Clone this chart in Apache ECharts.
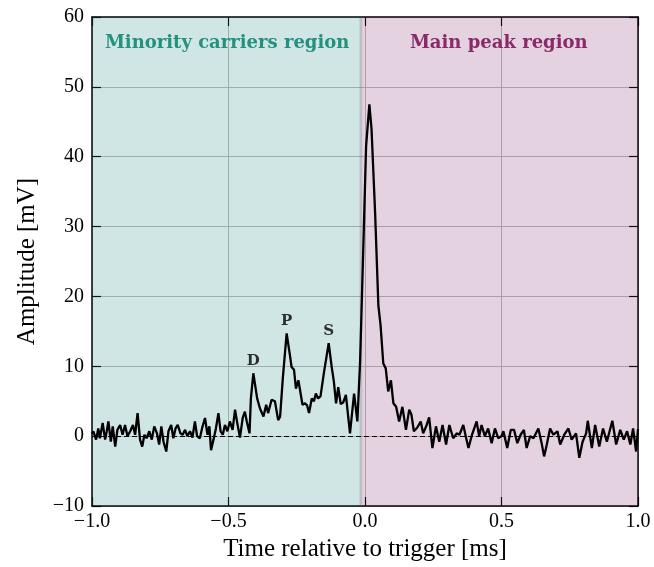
<!DOCTYPE html>
<html>
<head>
<meta charset="utf-8">
<script src="https://cdn.jsdelivr.net/npm/echarts@6/dist/echarts.min.js"></script>
<style>html,body{margin:0;padding:0;background:#fff}#c{width:654px;height:567px}</style>
</head>
<body>
<div id="c"></div>
<script>
// Time relative to trigger [ms]
var times = [-1.000,-0.995,-0.985,-0.977,-0.971,-0.961,-0.952,-0.946,-0.940,-0.931,-0.924,-0.915,-0.907,-0.897,-0.888,-0.879,-0.870,-0.860,-0.850,-0.842,-0.833,-0.824,-0.816,-0.808,-0.800,-0.790,-0.781,-0.772,-0.762,-0.754,-0.746,-0.738,-0.728,-0.720,-0.710,-0.702,-0.694,-0.686,-0.676,-0.668,-0.659,-0.651,-0.641,-0.632,-0.623,-0.615,-0.605,-0.595,-0.586,-0.577,-0.570,-0.564,-0.555,-0.547,-0.537,-0.529,-0.521,-0.513,-0.504,-0.495,-0.485,-0.476,-0.468,-0.458,-0.448,-0.440,-0.433,-0.423,-0.418,-0.409,-0.395,-0.385,-0.372,-0.362,-0.355,-0.342,-0.330,-0.318,-0.311,-0.301,-0.287,-0.275,-0.269,-0.260,-0.253,-0.244,-0.238,-0.229,-0.220,-0.212,-0.205,-0.195,-0.187,-0.180,-0.172,-0.163,-0.150,-0.133,-0.122,-0.114,-0.106,-0.098,-0.089,-0.080,-0.070,-0.055,-0.040,-0.028,-0.018,-0.006,0.004,0.016,0.024,0.037,0.049,0.057,0.067,0.076,0.085,0.095,0.104,0.114,0.125,0.137,0.150,0.162,0.170,0.179,0.191,0.204,0.213,0.226,0.235,0.247,0.260,0.272,0.284,0.297,0.309,0.323,0.336,0.346,0.360,0.369,0.379,0.392,0.409,0.418,0.427,0.439,0.451,0.464,0.476,0.488,0.500,0.507,0.521,0.534,0.546,0.558,0.570,0.582,0.592,0.605,0.617,0.635,0.647,0.656,0.666,0.678,0.690,0.705,0.715,0.730,0.745,0.757,0.773,0.785,0.797,0.810,0.816,0.831,0.843,0.858,0.872,0.886,0.906,0.920,0.935,0.948,0.960,0.972,0.982,0.993,1.000];
// Amplitude [mV]
var amplitudes = [0.3,0.7,-0.5,1.1,-0.3,1.9,-0.5,0.7,2.1,-0.8,1.4,-1.5,0.9,1.6,0.2,1.6,0.0,0.7,1.6,0.2,3.3,-0.5,-1.5,0.2,-0.3,0.7,-0.5,1.4,0.4,-1.2,1.4,-0.8,-2.2,0.7,1.6,-0.3,1.1,1.6,0.4,0.2,0.9,0.0,0.7,-0.2,2.1,0.0,-0.3,1.4,2.6,0.2,1.4,-2.0,-0.5,0.9,3.3,0.7,0.2,1.6,0.7,2.1,0.9,3.8,1.9,-0.2,2.6,3.5,2.1,0.4,5.4,9.0,5.4,4.0,2.8,4.5,3.3,5.2,5.0,2.3,2.8,8.3,14.7,11.6,9.9,9.5,6.8,8.0,6.6,4.5,4.7,4.4,3.3,5.4,5.0,6.1,5.4,5.7,9.2,13.3,9.9,7.8,4.7,7.0,4.6,4.8,5.9,0.4,6.1,2.1,10.6,27.3,41.5,47.5,43.9,32.0,18.7,15.9,10.4,9.7,6.4,8.0,4.7,4.2,2.1,4.2,0.9,3.8,3.1,0.7,1.2,2.1,0.4,1.6,2.7,-1.7,1.4,-0.8,1.6,-1.2,1.6,-0.3,0.4,0.2,1.6,0.0,-1.7,0.2,2.1,0.0,1.6,0.0,1.1,-1.0,1.1,-0.3,0.0,0.7,-1.7,0.9,0.9,-1.0,0.2,0.9,-1.7,0.0,-0.3,1.1,-1.0,-2.9,-1.2,1.1,0.2,0.7,-1.2,0.2,1.1,-0.5,0.4,-3.1,-0.8,0.4,2.2,-1.7,1.6,-1.5,1.1,-0.8,2.2,-1.2,0.9,-0.5,0.7,-1.2,1.1,-2.2,1.0];
// Peak annotations
var peakNames = ['D', 'P', 'S'];
var peakTimes = [-0.409, -0.287, -0.133];
var peakValues = [9.0, 14.7, 13.3];
// Regions
var regionNames = ['Minority carriers region', 'Main peak region'];
var regionStarts = [-1.0, -0.02];
var regionEnds = [-0.01, 1.0];

var xTicks = [-1.0, -0.5, 0.0, 0.5, 1.0];
var yTicks = [-10, 0, 10, 20, 30, 40, 50, 60];

var FONT = '"Liberation Serif", "DejaVu Serif", serif';
var BFONT = '"DejaVu Serif", "Liberation Serif", serif';
var chart = echarts.init(document.getElementById('c'), null, {renderer: 'canvas'});

var lineData = times.map(function (t, i) { return [t, amplitudes[i]]; });
var regionColors = ['rgba(20,130,120,0.2)', 'rgba(120,30,100,0.2)'];
var regionText = ['#24907f', '#8a2a68'];

function fmtX(v) {
  var s = Math.abs(v).toFixed(1);
  return (v < -1e-9 ? '\u2212' : '') + s;
}
function fmtY(v) {
  return (v < 0 ? '\u2212' : '') + Math.abs(v);
}

var option = {
  animation: false,
  backgroundColor: '#fff',
  grid: {left: 92, right: 16, top: 17, bottom: 59, containLabel: false},
  xAxis: [{
    type: 'value', min: -1, max: 1, interval: 0.5, position: 'bottom',
    name: 'Time relative to trigger [ms]', nameLocation: 'middle', nameGap: 31,
    nameTextStyle: {fontFamily: FONT, fontSize: 25, color: '#000'},
    axisLine: {show: true, onZero: false, lineStyle: {color: '#000', width: 1.5}},
    axisTick: {show: true, inside: true, length: 9, lineStyle: {color: '#000', width: 1.2}},
    axisLabel: {fontFamily: FONT, fontSize: 20, color: '#000', margin: 6, formatter: fmtX},
    splitLine: {show: true, lineStyle: {color: '#bcbcbc', width: 1}}
  }, {
    type: 'value', min: -1, max: 1, interval: 0.5, position: 'top',
    axisLine: {show: true, onZero: false, lineStyle: {color: '#000', width: 1.5}},
    axisTick: {show: true, inside: true, length: 9, lineStyle: {color: '#000', width: 1.2}},
    axisLabel: {show: false}, splitLine: {show: false}
  }],
  yAxis: [{
    type: 'value', min: -10, max: 60, interval: 10, position: 'left',
    name: 'Amplitude [mV]', nameLocation: 'middle', nameGap: 52, nameRotate: 90,
    nameTextStyle: {fontFamily: FONT, fontSize: 25, color: '#000'},
    axisLine: {show: true, onZero: false, lineStyle: {color: '#000', width: 1.5}},
    axisTick: {show: true, inside: true, length: 9, lineStyle: {color: '#000', width: 1.2}},
    axisLabel: {fontFamily: FONT, fontSize: 20, color: '#000', margin: 8, formatter: fmtY},
    splitLine: {show: true, lineStyle: {color: '#bcbcbc', width: 1}}
  }, {
    type: 'value', min: -10, max: 60, interval: 10, position: 'right',
    axisLine: {show: true, onZero: false, lineStyle: {color: '#000', width: 1.5}},
    axisTick: {show: true, inside: true, length: 9, lineStyle: {color: '#000', width: 1.2}},
    axisLabel: {show: false}, splitLine: {show: false}
  }],
  series: [{
    type: 'line',
    data: lineData,
    showSymbol: false,
    symbol: 'none',
    lineStyle: {color: '#000', width: 2.3},
    z: 5,
    markArea: {
      silent: true,
      data: regionNames.map(function (n, i) {
        return [{
          name: n, xAxis: regionStarts[i],
          itemStyle: {color: regionColors[i]},
          label: {show: true, position: 'insideTop', distance: 17,
            fontFamily: BFONT, fontWeight: 'bold', fontSize: 18, color: regionText[i]}
        }, {xAxis: regionEnds[i]}];
      })
    },
    markLine: {
      silent: true, symbol: ['none', 'none'],
      label: {show: false},
      lineStyle: {color: '#000', type: [5, 3], width: 1.2},
      data: [{yAxis: 0}]
    }
  }, {
    type: 'scatter',
    data: peakTimes.map(function (t, i) { return {value: [t, peakValues[i]], name: peakNames[i]}; }),
    symbolSize: 0,
    label: {show: true, position: 'top', distance: 5, formatter: '{b}',
      fontFamily: BFONT, fontWeight: 'bold', fontSize: 15, color: '#000'},
    z: 6
  }]
};
chart.setOption(option);
</script>
</body>
</html>
